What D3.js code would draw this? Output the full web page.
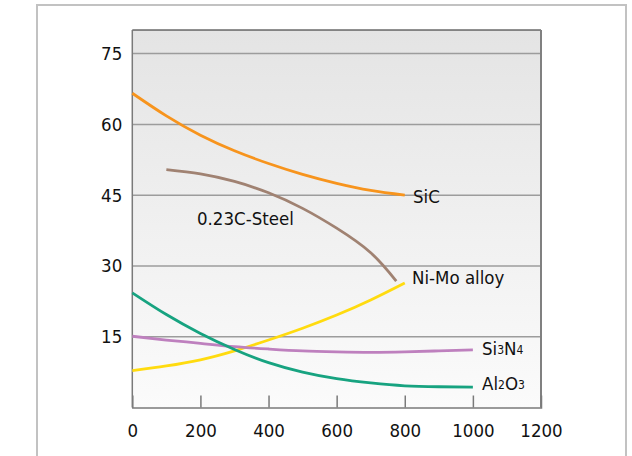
<!DOCTYPE html>
<html><head><meta charset="utf-8">
<script src="https://cdn.jsdelivr.net/npm/d3@7"></script>
<style>
html,body{margin:0;padding:0;background:#fff;}
svg{display:block;}
text{font-family:"DejaVu Sans Condensed","DejaVu Sans",sans-serif;fill:#111;}
</style></head><body>
<svg id="c" width="632" height="456"></svg>
<script>
// ---- data ----
const xTicks = [0, 200, 400, 600, 800, 1000, 1200];
const yTicks = [15, 30, 45, 60, 75];
const temps = [0, 100, 200, 300, 400, 500, 600, 700, 800, 900, 1000];
const sicValues = [66.6, 61.8, 57.7, 54.4, 51.7, 49.4, 47.5, 46.0, 45.0];
const steelTemps = [100, 200, 300, 400, 500, 600, 700, 775];
const steelValues = [50.4, 49.5, 47.9, 45.5, 42.2, 38.0, 32.8, 26.8];
const nimoValues = [7.8, 8.8, 10.1, 12.0, 14.3, 16.8, 19.6, 22.8, 26.4];
const si3n4Values = [15.1, 14.3, 13.6, 12.9, 12.4, 12.0, 11.8, 11.7, 11.8, 12.0, 12.2];
const al2o3Values = [24.3, 19.7, 15.7, 12.3, 9.5, 7.5, 6.1, 5.2, 4.6, 4.4, 4.3];
const seriesNames = ["SiC", "0.23C-Steel", "Ni-Mo alloy", "Si3N4", "Al2O3"];
const seriesColors = ["#F7941D", "#A08272", "#FFDB0F", "#BE80BE", "#17A380"];

const series = [
  {name: seriesNames[0], color: seriesColors[0], pts: sicValues.map((v,i)=>[temps[i], v])},
  {name: seriesNames[1], color: seriesColors[1], pts: steelValues.map((v,i)=>[steelTemps[i], v])},
  {name: seriesNames[2], color: seriesColors[2], pts: nimoValues.map((v,i)=>[temps[i], v])},
  {name: seriesNames[3], color: seriesColors[3], pts: si3n4Values.map((v,i)=>[temps[i], v])},
  {name: seriesNames[4], color: seriesColors[4], pts: al2o3Values.map((v,i)=>[temps[i], v])}
];

const svg = d3.select("#c");
const L = 132.3, R = 541, T = 30, B = 407.5;
const x = d3.scaleLinear().domain([0, 1200]).range([L, R]);
const y = d3.scaleLinear().domain([0, 80]).range([B, T]);

// outer frame
svg.append("rect").attr("x", 37).attr("y", 5).attr("width", 589).attr("height", 470)
  .attr("fill", "#fff").attr("stroke", "#c2c2c2").attr("stroke-width", 2);

// gradient background
const defs = svg.append("defs");
const g = defs.append("linearGradient").attr("id", "bg").attr("x1", 0).attr("x2", 0).attr("y1", 0).attr("y2", 1);
g.append("stop").attr("offset", "0%").attr("stop-color", "#e4e4e4");
g.append("stop").attr("offset", "100%").attr("stop-color", "#fbfbfb");
svg.append("rect").attr("x", L).attr("y", T).attr("width", R - L).attr("height", B - T).attr("fill", "url(#bg)");

// gridlines
svg.append("g").selectAll("line").data(yTicks).join("line")
  .attr("x1", L).attr("x2", R).attr("y1", d => y(d)).attr("y2", d => y(d))
  .attr("stroke", "#9c9c9c").attr("stroke-width", 1.5);

// frame lines
svg.append("line").attr("x1", L).attr("x2", R).attr("y1", T).attr("y2", T).attr("stroke", "#222").attr("stroke-width", 1.2);
svg.append("line").attr("x1", R).attr("x2", R).attr("y1", T).attr("y2", B).attr("stroke", "#808080").attr("stroke-width", 2);

// x axis
const xAxis = d3.axisBottom(x).tickValues(xTicks).tickSize(-12).tickPadding(16).tickFormat(d3.format("d"));
const xg = svg.append("g").attr("transform", `translate(0,${B})`).call(xAxis);
xg.select(".domain").attr("stroke", "#7a7a7a").attr("stroke-width", 1.5);
xg.selectAll(".tick line").attr("stroke", "#7a7a7a").attr("stroke-width", 1.5)
  .attr("opacity", d => (d === 0 || d === 1200) ? 0 : 1);
xg.selectAll(".tick text").attr("font-size", 18.5).attr("font-family", "DejaVu Sans Condensed, DejaVu Sans, sans-serif").attr("fill", "#111");

// y axis
const yAxis = d3.axisLeft(y).tickValues(yTicks).tickSize(0).tickPadding(10).tickFormat(d3.format("d"));
const yg = svg.append("g").attr("transform", `translate(${L},0)`).call(yAxis);
yg.select(".domain").attr("stroke", "#7a7a7a").attr("stroke-width", 1.5).attr("d", `M0,${T}V${B}`);
yg.selectAll(".tick text").attr("font-size", 18.5).attr("font-family", "DejaVu Sans Condensed, DejaVu Sans, sans-serif").attr("fill", "#111");

// lines
const line = d3.line().x(d => x(d[0])).y(d => y(d[1])).curve(d3.curveNatural);
svg.append("g").selectAll("path").data(series).join("path")
  .attr("d", d => line(d.pts)).attr("fill", "none")
  .attr("stroke", d => d.color).attr("stroke-width", 2.8).attr("stroke-linecap", "butt");

// labels
function label(xp, yp, parts) {
  const t = svg.append("text").attr("x", xp).attr("y", yp).attr("font-size", 18.5).attr("dominant-baseline", "middle");
  parts.forEach(p => t.append("tspan").attr("font-size", p[1]).text(p[0]));
}
label(413, 198, [["SiC", 18.5]]);
label(197, 220, [["0.23C-Steel", 18.5]]);
label(412, 279, [["Ni-Mo alloy", 18.5]]);
label(482, 350, [["Si", 18.5], ["3", 12], ["N", 18.5], ["4", 12]]);
label(482, 385, [["Al", 18.5], ["2", 12], ["O", 18.5], ["3", 12]]);
</script>
</body></html>
